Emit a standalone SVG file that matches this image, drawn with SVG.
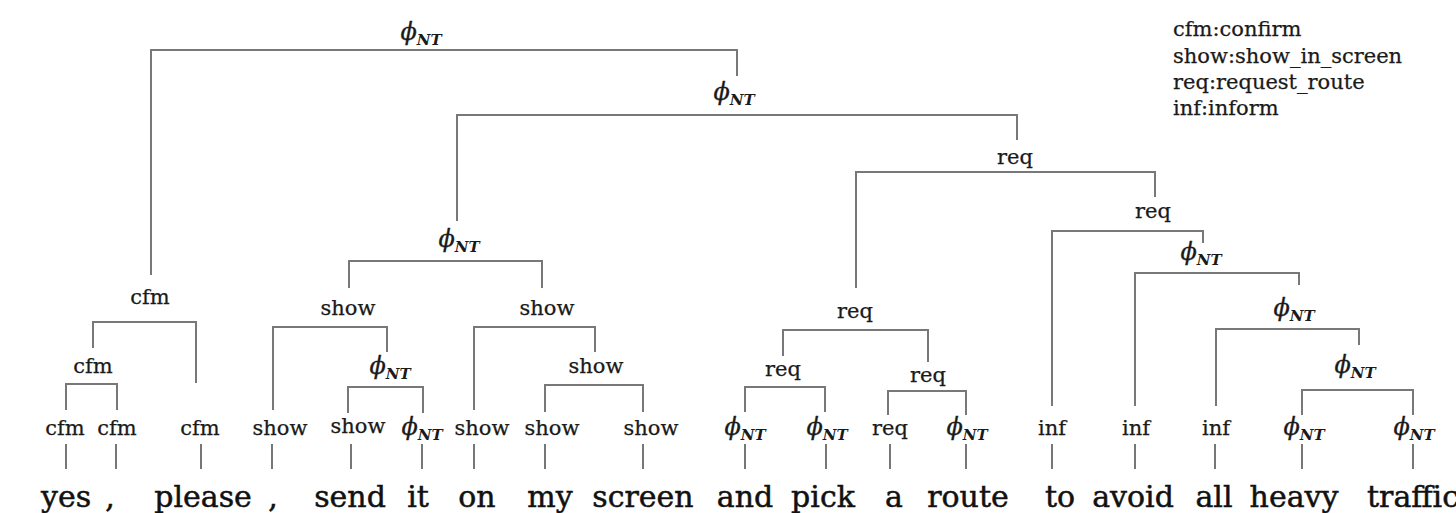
<svg xmlns="http://www.w3.org/2000/svg" width="1456" height="513" viewBox="0 0 1456 513">
<style>
.ln{fill:none;stroke:#787878;stroke-width:2;stroke-linejoin:miter}
.lf{fill:none;stroke:#555;stroke-width:1.6}
.lb{font-family:"DejaVu Serif","Liberation Serif",serif;font-size:21px;fill:#1a1a1a;stroke:#1a1a1a;stroke-width:0.25;text-anchor:middle}
.ph{font-family:"DejaVu Serif","Liberation Serif",serif;font-size:24px;font-style:italic;fill:#1a1a1a;stroke:#1a1a1a;stroke-width:0.3;text-anchor:middle}
.sb{font-size:15px;font-style:italic;font-weight:bold;stroke-width:0}
.wd{font-family:"DejaVu Serif","Liberation Serif",serif;font-size:30px;fill:#111;stroke:#111;stroke-width:0.5;text-anchor:middle}
.lg{font-family:"DejaVu Serif","Liberation Serif",serif;font-size:21px;fill:#1a1a1a;stroke:#1a1a1a;stroke-width:0.25}
</style>
<rect width="1456" height="513" fill="#fff"/>
<g id="connectors">
<path class="ln" d="M151,275 V50 H737 V76"/>
<path class="ln" d="M457,221 V115 H1017 V140"/>
<path class="ln" d="M856,288 V172 H1155 V197"/>
<path class="ln" d="M1052,406 V231 H1203 V243"/>
<path class="ln" d="M1135,406 V273 H1299 V285"/>
<path class="ln" d="M1216,406 V329 H1359 V345"/>
<path class="ln" d="M1302,415 V390 H1413 V415"/>
<path class="ln" d="M93,348 V322 H196 V383"/>
<path class="ln" d="M66,410 V384 H117 V410"/>
<path class="ln" d="M349,288 V261 H542 V288"/>
<path class="ln" d="M273,410 V327 H387 V352"/>
<path class="ln" d="M474,410 V327 H595 V352"/>
<path class="ln" d="M348,413 V387 H423 V413"/>
<path class="ln" d="M545,412 V385 H643 V412"/>
<path class="ln" d="M783,356 V330 H928 V362"/>
<path class="ln" d="M745,412 V387 H825 V412"/>
<path class="ln" d="M888,415 V391 H966 V415"/>
<path class="lf" d="M66,444V469 M116,444V469 M201,444V469 M272,444V469 M351,444V469 M422,444V469 M474,444V469 M545,444V469 M643,444V469 M745,444V469 M826,444V469 M890,444V469 M966,444V469 M1052,444V469 M1135,444V469 M1215,444V469 M1302,444V469 M1413,444V469"/>
</g>
<g id="n-root"><text class="ph" x="421" y="40">ϕ<tspan class="sb" dy="5">NT</tspan></text></g>
<g id="n-phi2"><text class="ph" x="734" y="100">ϕ<tspan class="sb" dy="5">NT</tspan></text></g>
<g id="n-req1"><text class="lb" x="1015" y="164">req</text></g>
<g id="n-req2"><text class="lb" x="1153" y="218">req</text></g>
<g id="n-phi3"><text class="ph" x="1201" y="260">ϕ<tspan class="sb" dy="5">NT</tspan></text></g>
<g id="n-phi4"><text class="ph" x="1294" y="316">ϕ<tspan class="sb" dy="5">NT</tspan></text></g>
<g id="n-phi5"><text class="ph" x="1355" y="373">ϕ<tspan class="sb" dy="5">NT</tspan></text></g>
<g id="n-cfm1"><text class="lb" x="150" y="304">cfm</text></g>
<g id="n-phi6"><text class="ph" x="459" y="247">ϕ<tspan class="sb" dy="5">NT</tspan></text></g>
<g id="n-show1"><text class="lb" x="348" y="315">show</text></g>
<g id="n-show2"><text class="lb" x="547" y="315">show</text></g>
<g id="n-req3"><text class="lb" x="855" y="318">req</text></g>
<g id="n-cfm2"><text class="lb" x="93" y="373">cfm</text></g>
<g id="n-phi7"><text class="ph" x="390" y="374">ϕ<tspan class="sb" dy="5">NT</tspan></text></g>
<g id="n-show3"><text class="lb" x="596" y="373">show</text></g>
<g id="n-req4"><text class="lb" x="783" y="376">req</text></g>
<g id="n-req5"><text class="lb" x="928" y="382">req</text></g>
<g id="leaves">
<g id="l1"><text class="lb" x="65" y="435">cfm</text></g>
<g id="l2"><text class="lb" x="117" y="435">cfm</text></g>
<g id="l3"><text class="lb" x="200" y="435">cfm</text></g>
<g id="l4"><text class="lb" x="280" y="435">show</text></g>
<g id="l5"><text class="lb" x="358" y="433">show</text></g>
<g id="l6"><text class="ph" x="422" y="435">ϕ<tspan class="sb" dy="5">NT</tspan></text></g>
<g id="l7"><text class="lb" x="482" y="435">show</text></g>
<g id="l8"><text class="lb" x="552" y="435">show</text></g>
<g id="l9"><text class="lb" x="651" y="435">show</text></g>
<g id="l10"><text class="ph" x="745" y="435">ϕ<tspan class="sb" dy="5">NT</tspan></text></g>
<g id="l11"><text class="ph" x="827" y="435">ϕ<tspan class="sb" dy="5">NT</tspan></text></g>
<g id="l12"><text class="lb" x="890" y="435">req</text></g>
<g id="l13"><text class="ph" x="967" y="435">ϕ<tspan class="sb" dy="5">NT</tspan></text></g>
<g id="l14"><text class="lb" x="1052" y="435">inf</text></g>
<g id="l15"><text class="lb" x="1136" y="435">inf</text></g>
<g id="l16"><text class="lb" x="1216" y="435">inf</text></g>
<g id="l17"><text class="ph" x="1304" y="435">ϕ<tspan class="sb" dy="5">NT</tspan></text></g>
<g id="l18"><text class="ph" x="1414" y="435">ϕ<tspan class="sb" dy="5">NT</tspan></text></g>
</g>
<g id="words">
<text class="wd" x="66" y="507">yes</text>
<text class="wd" x="110" y="507">,</text>
<text class="wd" x="203" y="507">please</text>
<text class="wd" x="273" y="507">,</text>
<text class="wd" x="350" y="507">send</text>
<text class="wd" x="418" y="507">it</text>
<text class="wd" x="477" y="507">on</text>
<text class="wd" x="550" y="507">my</text>
<text class="wd" x="643" y="507">screen</text>
<text class="wd" x="745" y="507">and</text>
<text class="wd" x="823" y="507">pick</text>
<text class="wd" x="894" y="507">a</text>
<text class="wd" x="968" y="507">route</text>
<text class="wd" x="1060" y="507">to</text>
<text class="wd" x="1133" y="507">avoid</text>
<text class="wd" x="1214" y="507">all</text>
<text class="wd" x="1294" y="507">heavy</text>
<text class="wd" x="1413" y="507">traffic</text>
</g>
<g id="legend">
<text class="lg" x="1173" y="36">cfm:confirm</text>
<text class="lg" x="1173" y="63">show:show_in_screen</text>
<text class="lg" x="1173" y="89">req:request_route</text>
<text class="lg" x="1173" y="115">inf:inform</text>
</g>
</svg>
